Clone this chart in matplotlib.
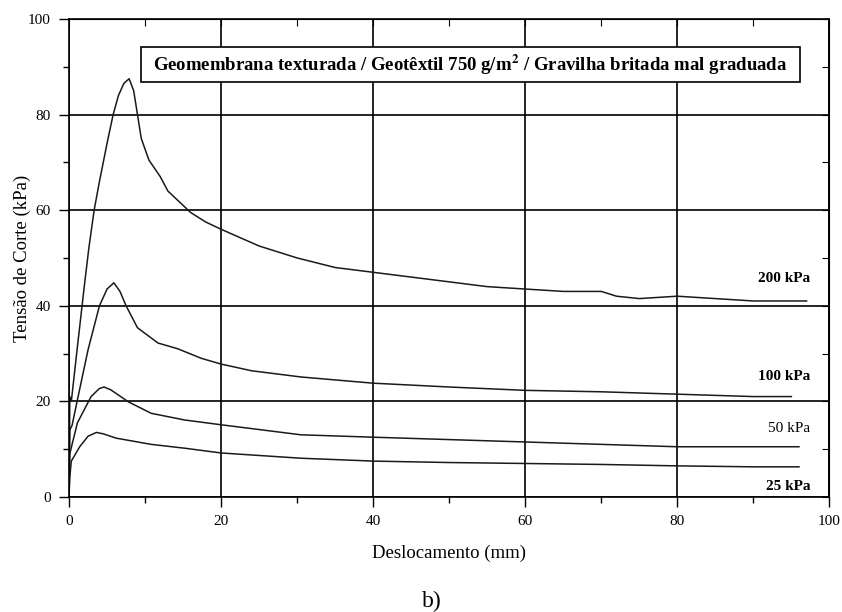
import matplotlib.pyplot as plt
from matplotlib.patches import Rectangle
from matplotlib.ticker import MultipleLocator

plt.rcParams['font.family'] = ['Liberation Serif', 'DejaVu Serif']
plt.rcParams['mathtext.fontset'] = 'stix'

# shear stress vs displacement, one curve per normal stress
x_200 = [0, 0.1, 0.3, 1, 2, 2.6, 3.3, 4, 5, 5.8, 6.5, 7.2, 7.9, 8.5, 9, 9.5, 10.5,
         12, 13, 15, 16, 18, 20, 25, 30, 35, 40, 45, 50, 55, 60, 65, 70, 72,
         75, 80, 85, 90, 97]
y_200 = [0, 21, 20, 30, 44, 52, 60, 66, 74, 80, 84, 86.5, 87.5, 85, 80, 75, 70.5,
         67, 64, 61, 59.5, 57.5, 56, 52.5, 50, 48, 47, 46, 45, 44, 43.5, 43, 43, 42,
         41.5, 42, 41.5, 41, 41]

x_100 = [0, 0.1, 0.4, 1.1, 2.5, 4, 5, 5.9, 6.7, 7.5, 9, 11.7, 14.3, 17.4, 20, 24,
         30.5, 40, 50, 60, 70, 80, 90, 95]
y_100 = [0, 14, 15, 20.3, 30.8, 40, 43.5, 44.8, 43, 40, 35.4, 32.2, 31, 29, 27.8,
         26.4, 25.1, 23.8, 23, 22.3, 22, 21.5, 21, 21]

x_50 = [0, 0.1, 0.4, 1.1, 2.9, 4, 4.6, 5.5, 7.8, 10.8, 15.2, 20, 30.5, 40, 50, 60,
        70, 80, 90, 96]
y_50 = [0, 9, 11, 15.5, 21, 22.7, 23, 22.4, 19.9, 17.5, 16.1, 15.1, 13, 12.5, 12,
        11.5, 11, 10.5, 10.5, 10.5]

x_25 = [0, 0.1, 0.3, 1.4, 2.5, 3.6, 4.5, 6.2, 10.8, 15.2, 20, 30.5, 40, 50, 60, 70,
        80, 90, 96]
y_25 = [0, 4.2, 7.5, 10.5, 12.7, 13.5, 13.2, 12.3, 11, 10.2, 9.2, 8.1, 7.5, 7.2, 7,
        6.8, 6.5, 6.3, 6.3]

series = [(x_200, y_200), (x_100, y_100), (x_50, y_50), (x_25, y_25)]
labels = ['200 kPa', '100 kPa', '50 kPa', '25 kPa']
label_y = [45.6, 25.3, 14.4, 2.1]
label_bold = ['bold', 'bold', 'normal', 'bold']

fig = plt.figure(figsize=(8.42, 6.12), dpi=100)
ax = fig.add_axes([0.082, 0.188, 0.903, 0.781])

for xs, ys in series:
    ax.plot(xs, ys, color='#1a1a1a', lw=1.1)

for text, yl, wt in zip(labels, label_y, label_bold):
    ax.text(97.5, yl, text, ha='right', va='center', fontsize=11, fontweight=wt)

ax.set_xlim(0, 100)
ax.set_ylim(0, 100)
ax.xaxis.set_major_locator(MultipleLocator(20))
ax.xaxis.set_minor_locator(MultipleLocator(10))
ax.yaxis.set_major_locator(MultipleLocator(20))
ax.yaxis.set_minor_locator(MultipleLocator(10))
ax.grid(which='major', color='black', lw=1.2)
ax.tick_params(which='both', direction='out', labelsize=11, width=1, color='black')
ax.tick_params(which='major', length=7, pad=6)
ax.tick_params(which='minor', length=4)
for s in ax.spines.values():
    s.set_linewidth(1.2)

# inward ticks on the top and right side
sec_x = ax.secondary_xaxis('top')
sec_x.xaxis.set_major_locator(MultipleLocator(10))
sec_x.tick_params(direction='in', length=5, labeltop=False)
sec_y = ax.secondary_yaxis('right')
sec_y.yaxis.set_major_locator(MultipleLocator(10))
sec_y.tick_params(direction='in', length=5, labelright=False)

ax.set_xlabel('Deslocamento (mm)', fontsize=13.5, labelpad=12)
ax.set_ylabel('Tensão de Corte (kPa)', fontsize=13.5, labelpad=-2)

# framed title inside the plot area
ax.add_patch(Rectangle((0.095, 0.868), 0.867, 0.073, transform=ax.transAxes,
                       facecolor='white', edgecolor='black', lw=1.2, zorder=4))
ax.text(0.528, 0.905, r'Geomembrana texturada / Geotêxtil 750 g/m$^{\mathbf{2}}$ / Gravilha britada mal graduada',
        transform=ax.transAxes, ha='center', va='center', fontsize=13.5, fontweight='bold',
        zorder=5)

fig.text(0.513, 0.0, 'b)', ha='center', va='bottom', fontsize=17)

fig.savefig('out.png', dpi=100)
